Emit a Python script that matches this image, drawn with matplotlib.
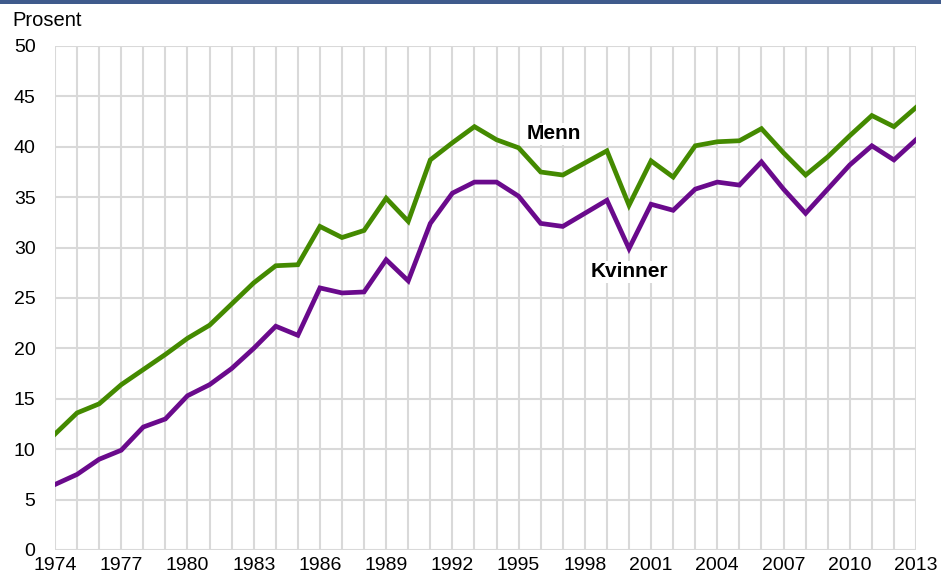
import matplotlib.pyplot as plt
from matplotlib.patches import Rectangle

years = list(range(1974, 2014))
menn = [11.5, 13.6, 14.5, 16.4, 17.9, 19.4, 21.0, 22.3, 24.4, 26.5,
        28.2, 28.3, 32.1, 31.0, 31.7, 34.9, 32.6, 38.7, 40.4, 42.0,
        40.7, 39.9, 37.5, 37.2, 38.4, 39.6, 34.2, 38.6, 37.0, 40.1,
        40.5, 40.6, 41.8, 39.4, 37.2, 39.0, 41.1, 43.1, 42.0, 43.9]
kvinner = [6.5, 7.5, 9.0, 9.9, 12.2, 13.0, 15.3, 16.4, 18.0, 20.0,
           22.2, 21.3, 26.0, 25.5, 25.6, 28.8, 26.7, 32.4, 35.4, 36.5,
           36.5, 35.1, 32.4, 32.1, 33.4, 34.7, 29.9, 34.3, 33.7, 35.8,
           36.5, 36.2, 38.5, 35.8, 33.4, 35.8, 38.2, 40.1, 38.7, 40.7]
xticks = list(range(1974, 2014, 3))
yticks = list(range(0, 51, 5))

plt.rcParams["font.family"] = ["Liberation Sans", "DejaVu Sans"]

fig = plt.figure(figsize=(9.41, 5.77), dpi=100)
ax = fig.add_axes([55 / 941, 27 / 577, 861 / 941, 504 / 577])

grid_col = "#d9d9d9"
for y in yticks:
    ax.axhline(y, color=grid_col, lw=1.5, zorder=1)
for x in years:
    ax.axvline(x, color=grid_col, lw=1.5, zorder=1)

ax.plot(years, menn, color="#448a00", lw=3.4, zorder=3, solid_joinstyle="miter")
ax.plot(years, kvinner, color="#6a0a8c", lw=3.4, zorder=3, solid_joinstyle="miter")

ax.text(1996.6, 41.3, "Menn", fontsize=15, fontweight="bold", ha="center", va="center",
        bbox=dict(facecolor="white", edgecolor="none", pad=1), zorder=4)
ax.text(2000.0, 27.6, "Kvinner", fontsize=15, fontweight="bold", ha="center", va="center",
        bbox=dict(facecolor="white", edgecolor="none", pad=1), zorder=4)

ax.set_xlim(1974, 2013)
ax.set_ylim(0, 50)
ax.set_xticks(xticks)
ax.set_yticks(yticks)
ax.tick_params(length=0, labelsize=14, colors="black")
ax.tick_params(axis="y", pad=14)
ax.tick_params(axis="x", pad=5)
for s in ax.spines.values():
    s.set_visible(False)

fig.text(12 / 941, 1 - 21 / 577, "Prosent", fontsize=14.5, ha="left", va="center")
fig.patches.append(Rectangle((0, 1 - 4 / 577), 1, 4 / 577, transform=fig.transFigure,
                             facecolor="#3f5b8c", edgecolor="none"))

fig.savefig("out.png", dpi=100)
